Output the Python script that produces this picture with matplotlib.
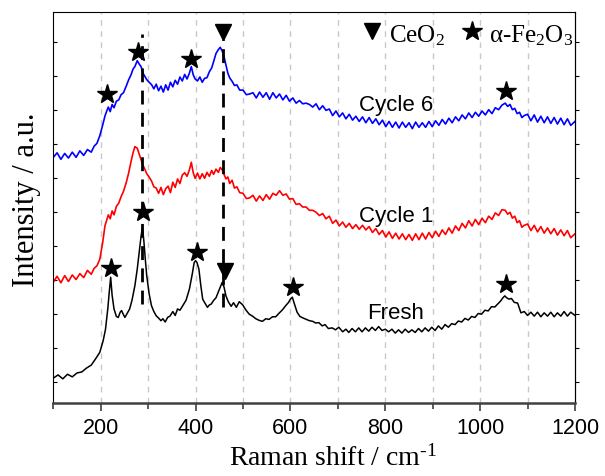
import numpy as np
import matplotlib
matplotlib.use("Agg")
import matplotlib.pyplot as plt

plt.rcParams["font.family"] = "Liberation Sans"
plt.rcParams["mathtext.fontset"] = "custom"
plt.rcParams["mathtext.rm"] = "Liberation Serif"
plt.rcParams["mathtext.it"] = "Liberation Serif:italic"

# Raman spectra (intensity in arbitrary, offset units)
cycle_x = [100, 108, 116, 124, 132, 140, 148, 156, 164, 172, 180, 186, 192, 198, 204, 209, 213, 216, 220, 224,
           228, 233, 238, 243, 248, 254, 259, 264, 268, 272, 277, 281, 285, 289, 293, 297, 302, 307, 312, 317,
           322, 327, 332, 337, 342, 347, 352, 357, 362, 367, 372, 377, 382, 387, 391, 395, 399, 404, 409, 414,
           419, 424, 429, 434, 438, 443, 448, 452, 456, 460, 464, 468, 472, 477, 482, 487, 493, 500, 507, 514,
           521, 528, 535, 542, 549, 556, 563, 570, 577, 584, 591, 598, 605, 612, 619, 626, 633, 640, 647, 654,
           661, 668, 675, 682, 689, 696, 703, 710, 717, 724, 731, 738, 745, 752, 759, 766, 773, 780, 787, 794,
           801, 808, 815, 822, 829, 836, 843, 850, 857, 864, 871, 878, 885, 892, 899, 906, 913, 920, 927, 934,
           941, 948, 955, 962, 969, 976, 983, 990, 997, 1004, 1011, 1018, 1025, 1032, 1039, 1046, 1053, 1058, 1063, 1068,
           1073, 1078, 1083, 1088, 1093, 1100, 1107, 1114, 1121, 1128, 1135, 1142, 1149, 1156, 1163, 1170, 1177, 1184, 1191, 1200]

cycle6 = [7.52, 7.66, 7.46, 7.64, 7.50, 7.68, 7.52, 7.72, 7.58, 7.76, 7.68, 7.86, 7.95, 8.18, 8.50, 8.79, 8.95, 9.06, 8.92, 9.14,
          9.04, 9.24, 9.28, 9.44, 9.50, 9.71, 9.90, 10.05, 10.22, 10.30, 10.48, 10.38, 10.30, 10.10, 10.00, 9.90, 9.82, 9.75, 9.62, 9.76,
          9.56, 9.70, 9.52, 9.74, 9.58, 9.82, 9.68, 9.88, 9.76, 9.98, 9.86, 10.06, 9.92, 10.10, 10.30, 10.05, 9.92, 9.86, 9.98, 9.82,
          9.94, 9.96, 10.14, 10.26, 10.45, 10.70, 10.82, 10.89, 10.78, 10.60, 10.35, 10.10, 9.95, 9.85, 9.72, 9.74, 9.58, 9.58, 9.44, 9.46,
          9.50, 9.34, 9.52, 9.36, 9.50, 9.30, 9.50, 9.34, 9.46, 9.28, 9.42, 9.24, 9.34, 9.18, 9.26, 9.16, 9.18, 9.14, 9.06, 9.16,
          8.98, 9.10, 8.96, 9.00, 8.80, 8.94, 8.76, 8.88, 8.70, 8.84, 8.66, 8.78, 8.62, 8.76, 8.58, 8.74, 8.56, 8.70, 8.52, 8.66,
          8.46, 8.62, 8.44, 8.60, 8.42, 8.60, 8.44, 8.58, 8.40, 8.60, 8.44, 8.58, 8.44, 8.62, 8.46, 8.64, 8.50, 8.68, 8.54, 8.72,
          8.58, 8.76, 8.64, 8.82, 8.70, 8.88, 8.74, 8.90, 8.78, 8.94, 8.82, 8.98, 8.86, 9.04, 8.98, 9.12, 9.18, 9.08, 9.14, 8.98,
          9.02, 8.86, 8.90, 8.74, 8.80, 8.84, 8.64, 8.82, 8.60, 8.78, 8.58, 8.76, 8.56, 8.74, 8.54, 8.72, 8.52, 8.70, 8.50, 8.62]

cycle1 = [3.70, 3.88, 3.68, 3.90, 3.72, 3.92, 3.78, 3.96, 3.84, 4.06, 3.94, 4.12, 4.20, 4.40, 4.90, 5.43, 5.62, 5.76, 5.64, 5.88,
          5.76, 6.02, 6.12, 6.32, 6.48, 6.76, 7.05, 7.40, 7.65, 7.85, 7.80, 7.62, 7.45, 7.28, 7.16, 7.02, 6.92, 6.80, 6.62, 6.58,
          6.42, 6.60, 6.38, 6.56, 6.64, 6.44, 6.76, 6.60, 6.86, 6.72, 6.98, 7.05, 6.94, 7.14, 7.37, 7.05, 6.88, 7.04, 6.86, 7.02,
          6.88, 7.06, 6.94, 7.12, 7.00, 7.16, 7.06, 7.21, 7.14, 7.00, 6.86, 6.92, 6.72, 6.82, 6.58, 6.62, 6.44, 6.42, 6.26, 6.28,
          6.36, 6.18, 6.34, 6.20, 6.38, 6.24, 6.42, 6.36, 6.50, 6.36, 6.40, 6.24, 6.26, 6.08, 6.10, 6.00, 6.00, 5.90, 5.90, 5.84,
          5.74, 5.80, 5.64, 5.72, 5.50, 5.60, 5.42, 5.54, 5.38, 5.50, 5.34, 5.46, 5.32, 5.44, 5.30, 5.40, 5.22, 5.34, 5.16, 5.28,
          5.08, 5.24, 5.04, 5.20, 5.02, 5.18, 5.00, 5.16, 4.98, 5.18, 5.00, 5.20, 5.02, 5.22, 5.06, 5.26, 5.10, 5.30, 5.16, 5.36,
          5.20, 5.42, 5.28, 5.50, 5.36, 5.58, 5.42, 5.62, 5.46, 5.66, 5.52, 5.72, 5.62, 5.82, 5.74, 5.92, 5.90, 5.78, 5.84, 5.66,
          5.72, 5.52, 5.58, 5.38, 5.44, 5.48, 5.28, 5.44, 5.24, 5.40, 5.20, 5.36, 5.18, 5.34, 5.14, 5.30, 5.12, 5.28, 5.06, 5.18]

fresh_x = [100, 110, 120, 130, 140, 150, 160, 170, 180, 190, 198, 205, 210, 215, 218, 221, 224, 228, 233, 237,
           241, 244, 248, 251, 256, 261, 266, 272, 277, 281, 285, 288, 291, 294, 297, 302, 307, 312, 317, 322,
           327, 331, 336, 341, 346, 352, 357, 362, 367, 373, 380, 387, 393, 397, 400, 403, 407, 411, 415, 420,
           425, 429, 433, 438, 443, 448, 452, 456, 460, 464, 469, 475, 480, 486, 492, 499, 506, 513, 520, 527,
           534, 541, 548, 555, 562, 569, 576, 583, 590, 596, 600, 604, 608, 614, 620, 627, 632, 640, 647, 653,
           660, 667, 673, 680, 688, 695, 702, 710, 717, 723, 730, 737, 744, 751, 758, 765, 772, 779, 786, 793,
           800, 807, 814, 821, 828, 835, 842, 849, 856, 863, 870, 877, 884, 891, 898, 905, 912, 919, 926, 933,
           940, 947, 954, 961, 968, 975, 982, 989, 996, 1003, 1010, 1017, 1024, 1031, 1037, 1043, 1048, 1052, 1056, 1061,
           1066, 1072, 1079, 1086, 1093, 1100, 1107, 1114, 1121, 1128, 1135, 1142, 1149, 1156, 1163, 1170, 1177, 1184, 1191, 1200]

fresh = [0.76, 0.86, 0.74, 0.88, 0.80, 0.92, 0.95, 1.07, 1.16, 1.37, 1.55, 1.90, 2.25, 2.90, 3.40, 3.85, 3.30, 2.88, 2.65, 2.62,
         2.78, 2.83, 2.70, 2.62, 2.75, 2.88, 3.15, 3.59, 4.10, 4.61, 5.10, 5.38, 4.95, 4.40, 3.90, 3.35, 2.98, 2.80, 2.67, 2.60,
         2.52, 2.58, 2.48, 2.62, 2.66, 2.80, 2.68, 2.88, 2.84, 2.98, 3.15, 3.49, 3.95, 4.30, 4.36, 4.30, 4.10, 3.60, 3.18, 3.05,
         2.93, 3.00, 3.03, 3.14, 3.22, 3.40, 3.55, 3.69, 3.55, 3.28, 3.10, 2.96, 3.07, 2.93, 3.10, 3.01, 2.85, 2.72, 2.66, 2.58,
         2.53, 2.50, 2.58, 2.56, 2.64, 2.64, 2.75, 2.85, 2.98, 3.08, 3.18, 3.24, 3.05, 2.78, 2.65, 2.60, 2.57, 2.52, 2.50, 2.45,
         2.46, 2.36, 2.40, 2.28, 2.30, 2.24, 2.32, 2.18, 2.26, 2.16, 2.28, 2.18, 2.30, 2.18, 2.30, 2.20, 2.32, 2.22, 2.34, 2.22,
         2.26, 2.18, 2.26, 2.14, 2.24, 2.14, 2.26, 2.16, 2.24, 2.16, 2.28, 2.18, 2.30, 2.20, 2.32, 2.22, 2.36, 2.26, 2.40, 2.32,
         2.43, 2.40, 2.51, 2.48, 2.59, 2.54, 2.65, 2.62, 2.74, 2.72, 2.84, 2.82, 2.95, 2.94, 3.03, 3.12, 3.22, 3.28, 3.22, 3.18,
         3.20, 3.08, 3.06, 2.76, 2.80, 2.68, 2.78, 2.66, 2.78, 2.64, 2.76, 2.66, 2.78, 2.64, 2.76, 2.66, 2.80, 2.66, 2.78, 2.68]

# peak assignments
star_x = [214, 279, 391, 1055, 221, 289, 403, 605, 1055]
star_y = [9.46, 10.76, 10.53, 9.56, 4.12, 5.84, 4.63, 3.54, 3.64]
tri_x = [458, 461]
tri_y = [11.35, 4.05]
guide_x = [288, 458.5]
guide_lo = [3.03, 2.94]
guide_hi = [11.3, 11.14]

labels = ["Cycle 6", "Cycle 1", "Fresh"]
label_y = [9.15, 5.75, 2.76]

fig = plt.figure(figsize=(6.05, 4.77), dpi=100)
ax = fig.add_axes([53.3 / 605, 1 - 404 / 477, 521.7 / 605, 391.3 / 477])

for gx in range(200, 1200, 100):
    ax.axvline(gx, color="#c8c8c8", lw=1.0, dashes=(4, 4), zorder=0)

ax.plot(fresh_x, fresh, color="black", lw=1.1)
ax.plot(cycle_x, cycle1, color="red", lw=1.2)
ax.plot(cycle_x, cycle6, color="blue", lw=1.2)

for gx, lo, hi in zip(guide_x, guide_lo, guide_hi):
    ax.plot([gx, gx], [lo, hi], color="black", lw=2.0, dashes=(5, 3))

ax.plot(star_x, star_y, ls="none", marker="*", ms=15, color="black")
ax.plot(tri_x, tri_y, ls="none", marker="v", ms=12, color="black")

for lab, ly in zip(labels, label_y):
    ax.text(822, ly, lab, ha="center", va="center", fontsize=16)

# legend-like markers at top
ax.plot([772], [11.4], marker="v", ms=12, color="black")
ax.text(808, 11.08, "CeO$_2$", fontsize=18, ha="left", va="baseline", family="Liberation Serif")
ax.plot([982], [11.4], marker="*", ms=15, color="black")
ax.text(1018, 11.08, "\u03b1-Fe$_2$O$_3$", fontsize=18, ha="left", va="baseline", family="Liberation Serif")

ax.set_xlim(100, 1200)
ax.set_ylim(0, 11.98)
ax.set_xticks(range(200, 1201, 200))
ax.set_xticks(range(100, 1200, 200), minor=True)
ax.set_yticks(np.linspace(0.643, 11.05, 11))
ax.set_yticklabels([])
ax.tick_params(axis="x", which="major", direction="out", length=6, width=1.2, color="#404040", labelsize=15.5, pad=4)
ax.tick_params(axis="x", which="minor", direction="out", length=4, width=1.2, color="#404040")
ax.tick_params(axis="y", direction="in", length=3, left=True, right=False)
sec = ax.secondary_yaxis("right")
sec.set_yticks(np.linspace(0.643, 11.05, 11))
sec.set_yticklabels([])
sec.tick_params(direction="out", length=3)

ax.spines["bottom"].set_color("#404040")
ax.spines["bottom"].set_linewidth(1.8)

fig.text(333 / 605, 1 - 458 / 477, r"Raman shift / cm$^{\text{-1}}$", ha="center", va="center",
         fontsize=20, family="Liberation Serif")
fig.text(27 / 605, 1 - 200 / 477, "Intensity / a.u.", ha="center", va="center", rotation=90,
         fontsize=22, family="Liberation Serif")

fig.savefig("out.png", dpi=100)
